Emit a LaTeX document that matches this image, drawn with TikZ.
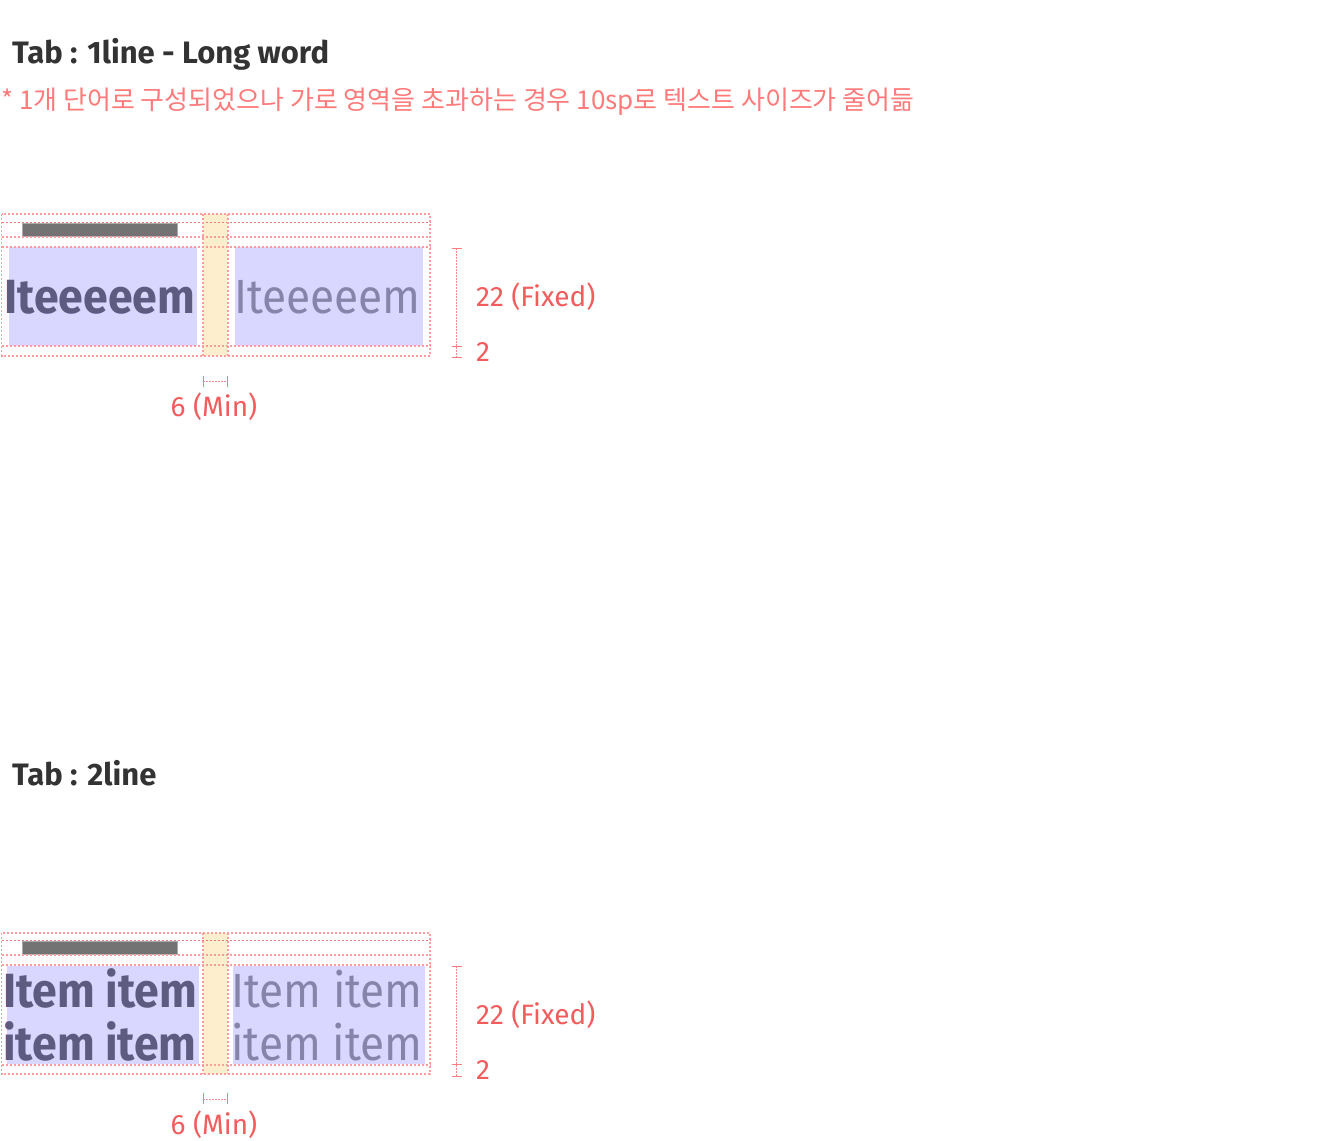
\documentclass[tikz,border=0pt]{standalone}
\usepackage{fontspec}
\setmainfont{Fira Sans}
\newfontfamily\krfont{Noto Sans CJK KR}
\definecolor{headc}{HTML}{333333}
\definecolor{notec}{HTML}{FF7A7A}
\definecolor{dimc}{HTML}{F25C5C}
\definecolor{dotc}{HTML}{FF9C9C}
\definecolor{dotdark}{HTML}{F27777}
\definecolor{lavc}{HTML}{D9D6FF}
\definecolor{yelc}{HTML}{FDEFCD}
\definecolor{barc}{HTML}{737373}
\definecolor{boldc}{HTML}{5D5B7F}
\definecolor{regc}{HTML}{8784AA}
\newcommand{\bsq}[1]{\scalebox{0.93}[1]{#1}}
\newcommand{\rsq}[1]{\scalebox{0.92}[1]{#1}}
\tikzset{
  dotline/.style={draw=dotc, line width=1.8pt, dash pattern=on 2pt off 2pt},
  dotlinedark/.style={draw=dotdark, line width=1.5pt, dash pattern=on 2pt off 2pt},
  dimline/.style={draw=dimc!70, line width=1pt, dash pattern=on 1.5pt off 1.5pt},
  tickline/.style={draw=dimc!80, line width=1pt},
  headtxt/.style={inner sep=0pt, anchor=base west, text=headc, font=\fontsize{31}{36}\selectfont\bfseries},
  notetxt/.style={inner sep=0pt, anchor=base west, text=notec, font=\krfont\fontsize{26}{30}\selectfont},
  dimtxt/.style={inner sep=0pt, text=dimc, font=\fontsize{28}{32}\selectfont},
  tabbold/.style={inner sep=0pt, anchor=base, text=boldc, font=\fontsize{48}{53}\selectfont\bfseries},
  tabreg/.style={inner sep=0pt, anchor=base, text=regc, font=\fontsize{48}{53}\selectfont},
  lav/.style={fill=lavc},
  yel/.style={fill=yelc},
  bar/.style={fill=barc, draw=barc!60, line width=0.8pt},
}
\begin{document}
\begin{tikzpicture}[x=1pt,y=-1pt]
\useasboundingbox (0,0) rectangle (1340,1140);
\fill[white] (0,0) rectangle (1340,1140);

% headings
\node[headtxt] (h1) at (12,63.3) {Tab : 1line - Long word};
\node[notetxt] (note) at (1,109.5) {* 1개 단어로 구성되었으나 가로 영역을 초과하는 경우 10sp로 텍스트 사이즈가 줄어듦};
\node[headtxt] (h2) at (12,785) {Tab : 2line};

% ===== block 1 =====
\begin{scope}[shift={(0,214)}]
  \fill[yel] (203.3,0) rectangle (227.7,141.6);
  \fill[lav] (9,32.7) rectangle (197,132);
  \fill[lav] (235,32.7) rectangle (423,132);
  \filldraw[bar] (22.7,9.3) rectangle (177.7,22.7);
  \draw[dotline] (1.5,0) rectangle (430,141.6);
  \foreach \yy in {22.7,32.7,132} \draw[dotline] (1.5,\yy) -- (430,\yy);
  \draw[dotlinedark] (1.5,8.7) -- (430,8.7);
  \draw[dotline] (203.3,0) -- (203.3,141.6);
  \draw[dotline] (227.7,0) -- (227.7,141.6);
  \node[tabbold] (t1a) at (100,99.3) {\bsq{Iteeeeem}};
  \node[tabreg] (t1b) at (327.5,99.3) {\rsq{Iteeeeem}};
  % vertical dimension
  \coordinate (d1a) at (456.7,34.3);
  \coordinate (d1b) at (456.7,132.7);
  \coordinate (d1c) at (456.7,143.7);
  \draw[dimline] (d1a) -- (d1b) -- (d1c);
  \foreach \cc in {d1a,d1b,d1c} \draw[tickline] ([xshift=-5pt]\cc) -- ([xshift=5pt]\cc);
  \node[dimtxt, anchor=base west] (f1) at (476,92) {22 (Fixed)};
  \node[dimtxt, anchor=base west] (g1) at (476,147) {2};
  % min dimension
  \coordinate (m1a) at (203.3,167.7);
  \coordinate (m1b) at (227.7,167.7);
  \draw[dimline] (m1a) -- (m1b);
  \foreach \cc in {m1a,m1b} \draw[tickline] ([yshift=6pt]\cc) -- ([yshift=-5pt]\cc);
  \node[dimtxt, anchor=base] (n1) at (214,202) {6 (Min)};
\end{scope}

% ===== block 2 =====
\begin{scope}[shift={(0,932.7)}]
  \fill[yel] (203.3,0) rectangle (227.7,141.4);
  \fill[lav] (6.7,33.5) rectangle (199,131.5);
  \fill[lav] (233,33.5) rectangle (425,131.5);
  \filldraw[bar] (22.7,8.6) rectangle (177.7,22);
  \draw[dotline] (1.5,0) rectangle (430,141.4);
  \foreach \yy in {22,32.6,132.3} \draw[dotline] (1.5,\yy) -- (430,\yy);
  \draw[dotlinedark] (1.5,8) -- (430,8);
  \draw[dotline] (203.3,0) -- (203.3,141.4);
  \draw[dotline] (227.7,0) -- (227.7,141.4);
  \node[tabbold] (t2a) at (100,74.3) {\bsq{Item item}};
  \node[tabbold] (t2c) at (100,127.3) {\bsq{item item}};
  \node[tabreg] (t2b) at (327,74.3) {\rsq{Item item}};
  \node[tabreg] (t2d) at (327,127.3) {\rsq{item item}};
  % vertical dimension
  \coordinate (d2a) at (456.7,33.3);
  \coordinate (d2b) at (456.7,131.6);
  \coordinate (d2c) at (456.7,144);
  \draw[dimline] (d2a) -- (d2b) -- (d2c);
  \foreach \cc in {d2a,d2b,d2c} \draw[tickline] ([xshift=-5pt]\cc) -- ([xshift=5pt]\cc);
  \node[dimtxt, anchor=base west] (f2) at (476,91.3) {22 (Fixed)};
  \node[dimtxt, anchor=base west] (g2) at (476,146.3) {2};
  % min dimension
  \coordinate (m2a) at (203.3,166.3);
  \coordinate (m2b) at (227.7,166.3);
  \draw[dimline] (m2a) -- (m2b);
  \foreach \cc in {m2a,m2b} \draw[tickline] ([yshift=6pt]\cc) -- ([yshift=-5pt]\cc);
  \node[dimtxt, anchor=base] (n2) at (214,201.5) {6 (Min)};
\end{scope}
\end{tikzpicture}
\end{document}
